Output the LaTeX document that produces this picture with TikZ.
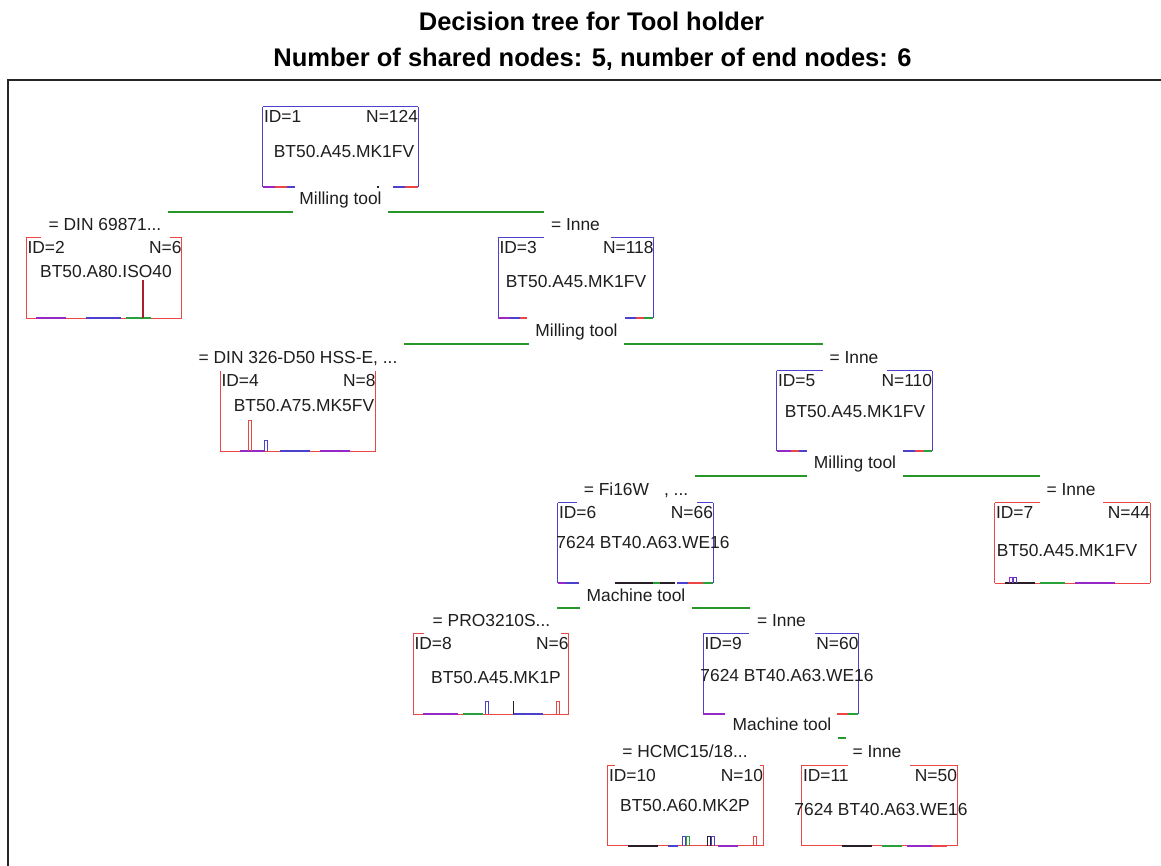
\documentclass[tikz,border=0pt]{standalone}
\usepackage{fontspec}
\setmainfont{Liberation Sans}
\definecolor{boxblue}{RGB}{75,65,205}
\definecolor{boxred}{RGB}{235,70,70}
\definecolor{edgegreen}{RGB}{40,150,40}
\definecolor{txtc}{RGB}{30,30,30}
\definecolor{nviolet}{RGB}{150,40,200}
\definecolor{ngreen}{RGB}{40,160,60}
\definecolor{ndark}{RGB}{40,30,40}
\newcommand\bseg[4]{\draw[line width=1.6pt,#4] ([xshift=#2pt]#1.south west) -- ([xshift=#3pt]#1.south west);}
\newcommand\tbar[4]{\draw[#4,line width=0.9pt] ([xshift=#2pt]#1.south west) -- ++(0,-#3) -- ++(3,0) -- ++(0,#3);}
\begin{document}
\begin{tikzpicture}[x=1pt,y=-1pt,
  box/.style={rectangle,inner sep=0pt,minimum width=155pt,minimum height=80pt},
  txt/.style={font=\fontsize{17.4}{19}\selectfont,text=txtc,inner sep=0pt},
  lab/.style={txt,inner xsep=6.5pt,inner ysep=0pt,anchor=base},
  ttl/.style={font=\fontsize{25.5}{28}\selectfont\bfseries,text=black,inner sep=0pt,anchor=base},
  blu/.style={draw=boxblue,line width=1.3pt},
  redb/.style={draw=boxred,line width=1.3pt},
  edge/.style={draw=edgegreen,line width=1.3pt},
  frame/.style={draw=black!85,line width=1.4pt}]
\useasboundingbox (0,0) rectangle (1161,866);
\fill[white] (0,0) rectangle (1161,866);

% titles
\node[ttl] (t1) at (591.5,31) {Decision tree for Tool holder};
\node[ttl] (t2) at (592.5,67) {Number of shared nodes: 5, number of end nodes: 6};

% frame
\draw[frame] (8,866) -- (8,80) -- (1161,80);

% ---------- boxes ----------
\node[box] (b1) at (340.5,147) {};
\node[box] (b2) at (104,278) {};
\node[box] (b3) at (576,278) {};
\node[box] (b4) at (298,411) {};
\node[box] (b5) at (854.5,411) {};
\node[box] (b6) at (635.5,543) {};
\node[box] (b7) at (1072.5,543) {};
\node[box] (b8) at (491,674) {};
\node[box] (b9) at (781,674) {};
\node[box] (b10) at (685.5,805.5) {};
\node[box] (b11) at (879.5,805.5) {};

% sides
\foreach \b in {b1,b3,b5,b6,b9}{
  \draw[blu] (\b.north west) -- (\b.south west);
  \draw[blu] (\b.north east) -- (\b.south east);}
\foreach \b in {b2,b4,b7,b8,b10,b11}{
  \draw[redb] (\b.north west) -- (\b.south west);
  \draw[redb] (\b.north east) -- (\b.south east);
  \draw[redb] (\b.south west) -- (\b.south east);}
% top segments
\draw[blu] (b1.north west) -- (b1.north east);
\draw[redb] (b2.north west) -- ++(15,0); \draw[redb] (b2.north east) -- ++(-12,0);
\draw[blu] (b3.north west) -- ++(46,0); \draw[blu] (b3.north east) -- ++(-43,0);
\draw[blu] (b5.north west) -- ++(46,0); \draw[blu] (b5.north east) -- ++(-45,0);
\draw[blu] (b6.north west) -- ++(19,0); \draw[blu] (b6.north east) -- ++(-16,0);
\draw[redb] (b7.north west) -- ++(45,0); \draw[redb] (b7.north east) -- ++(-47,0);
\draw[redb] (b8.north west) -- ++(11,0); \draw[redb] (b8.north east) -- ++(-8,0);
\draw[blu] (b9.north west) -- ++(46,0); \draw[blu] (b9.north east) -- ++(-44,0);
\draw[redb] (b10.north west) -- ++(7,0); \draw[redb] (b10.north east) -- ++(-3,0);
\draw[redb] (b11.north west) -- ++(46,0); \draw[redb] (b11.north east) -- ++(-47,0);

% bottom bits
\bseg{b1}{0}{12}{nviolet}\bseg{b1}{12}{24}{boxred}\bseg{b1}{24}{32}{boxblue}
\bseg{b1}{130}{142}{boxblue}\bseg{b1}{142}{155}{boxred}\bseg{b1}{114}{116}{ndark}
\bseg{b3}{0}{12}{nviolet}\bseg{b3}{12}{22}{boxblue}\bseg{b3}{22}{29}{boxred}
\bseg{b3}{127}{138}{boxblue}\bseg{b3}{138}{146}{boxred}\bseg{b3}{146}{155}{ngreen}
\bseg{b5}{0}{14}{nviolet}\bseg{b5}{14}{22}{boxred}\bseg{b5}{22}{30}{boxblue}
\bseg{b5}{126}{138}{boxblue}\bseg{b5}{138}{147}{boxred}\bseg{b5}{147}{155}{ngreen}
\bseg{b6}{0}{8}{nviolet}\bseg{b6}{8}{21}{boxblue}
\bseg{b6}{57}{117}{ndark}\bseg{b6}{95}{102}{ngreen}
\bseg{b6}{119}{130}{boxblue}\bseg{b6}{130}{145}{boxred}\bseg{b6}{145}{155}{ngreen}
\bseg{b9}{0}{22}{nviolet}
\bseg{b9}{134}{145}{boxred}\bseg{b9}{145}{155}{ngreen}
\bseg{b2}{10}{40}{nviolet}\bseg{b2}{60}{95}{boxblue}\bseg{b2}{100}{125}{ngreen}
\bseg{b4}{20}{45}{nviolet}\bseg{b4}{60}{90}{boxblue}\bseg{b4}{100}{130}{nviolet}
\bseg{b7}{10}{40}{ndark}\bseg{b7}{45}{70}{ngreen}\bseg{b7}{80}{120}{nviolet}
\bseg{b8}{10}{45}{nviolet}\bseg{b8}{50}{70}{ngreen}\bseg{b8}{100}{130}{boxblue}
\bseg{b10}{20}{50}{ndark}\bseg{b10}{60}{70}{boxblue}\bseg{b10}{110}{130}{nviolet}
\bseg{b11}{40}{70}{ndark}\bseg{b11}{80}{100}{ngreen}\bseg{b11}{105}{130}{nviolet}\bseg{b11}{130}{145}{boxred}

% bars
\draw[line width=2.2pt,draw={rgb,255:red,170;green,30;blue,40}] ([xshift=117pt]b2.south west) -- ++(0,-38);
\tbar{b4}{28}{31}{boxred}
\tbar{b4}{44}{11}{boxblue}
\tbar{b7}{15}{6}{nviolet}\tbar{b7}{19}{6}{boxblue}
\tbar{b8}{72}{13}{boxblue}
\draw[line width=1.4pt,ndark] ([xshift=100pt]b8.south west) -- ++(0,-13);
\tbar{b8}{143}{13}{boxred}
\tbar{b10}{75}{9}{boxblue}\tbar{b10}{79}{9}{ngreen}
\tbar{b10}{100}{9}{ndark}\tbar{b10}{104}{9}{boxblue}
\tbar{b10}{146}{9}{boxred}

% ---------- box texts ----------
\foreach \b/\i/\n in {b1/1/124,b2/2/6,b3/3/118,b4/4/8,b5/5/110,b6/6/66,b7/7/44,b8/8/6,b9/9/60,b10/10/10,b11/11/50}{
  \node[txt,anchor=base west] (id\i) at ([shift={(1,16)}]\b.north west) {ID=\i};
  \node[txt,anchor=base east] (n\i) at ([shift={(0,16)}]\b.north east) {N=\n};}
\node[txt,anchor=base] (c1) at (344,158) {BT50.A45.MK1FV};
\node[txt,anchor=base] (c2) at (106,278) {BT50.A80.ISO40};
\node[txt,anchor=base] (c3) at (576,288) {BT50.A45.MK1FV};
\node[txt,anchor=base] (c4) at (304,411) {BT50.A75.MK5FV};
\node[txt,anchor=base] (c5) at (855,417) {BT50.A45.MK1FV};
\node[txt,anchor=base] (c6) at (643,548) {7624 BT40.A63.WE16};
\node[txt,anchor=base] (c7) at (1067,556) {BT50.A45.MK1FV};
\node[txt,anchor=base] (c8) at (496,683) {BT50.A45.MK1P};
\node[txt,anchor=base] (c9) at (787,681) {7624 BT40.A63.WE16};
\node[txt,anchor=base] (c10) at (685,811) {BT50.A60.MK2P};
\node[txt,anchor=base] (c11) at (881,815) {7624 BT40.A63.WE16};

% ---------- split and branch labels ----------
\node[lab] (s1) at (340.5,205) {Milling tool};
\node[lab] (l2) at (105,231) {= DIN 69871...};
\node[lab] (l3) at (575.5,231) {= Inne};
\node[lab] (s3) at (576.5,337) {Milling tool};
\node[lab] (l4) at (298,363) {= DIN 326-D50 HSS-E, ...};
\node[lab] (l5) at (854,363) {= Inne};
\node[lab] (s5) at (855,468) {Milling tool};
\node[lab] (l6) at (636,495) {= Fi16W\hspace{15pt}, ...};
\node[lab] (l7) at (1071,495) {= Inne};
\node[lab] (s6) at (636,601) {Machine tool};
\node[lab] (l8) at (491.5,626) {= PRO3210S...};
\node[lab] (l9) at (781.5,626) {= Inne};
\node[lab] (s9) at (782,730) {Machine tool};
\node[lab] (l10) at (685,757) {= HCMC15/18...};
\node[lab] (l11) at (877,757) {= Inne};

% ---------- connectors ----------
\coordinate (y1) at (0,212);
\coordinate (y2) at (0,344);
\coordinate (y3) at (0,476);
\coordinate (y4) at (0,608);
\coordinate (y5) at (0,738);
\draw[edge] (s1.west |- y1) -- (l2.east |- y1);
\draw[edge] (s1.east |- y1) -- (l3.west |- y1);
\draw[edge] (s3.west |- y2) -- (l4.east |- y2);
\draw[edge] (s3.east |- y2) -- (l5.west |- y2);
\draw[edge] (s5.west |- y3) -- (l6.east |- y3);
\draw[edge] (s5.east |- y3) -- (l7.west |- y3);
\draw[edge] (s6.west |- y4) -- (l8.east |- y4);
\draw[edge] (s6.east |- y4) -- (l9.west |- y4);
\draw[edge] (s9.east |- y5) -- (l11.west |- y5);
\end{tikzpicture}
\end{document}
